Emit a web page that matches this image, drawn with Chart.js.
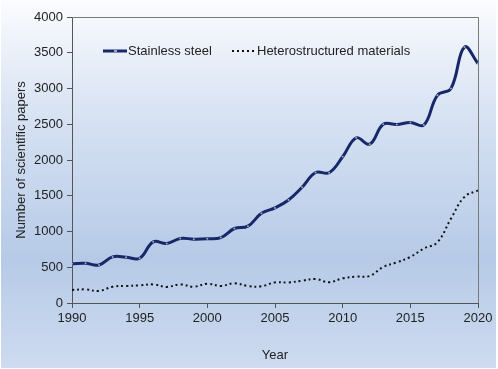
<!DOCTYPE html>
<html>
<head>
<meta charset="utf-8">
<script src="https://cdn.jsdelivr.net/npm/chart.js@4/dist/chart.umd.min.js"></script>
<style>
  html, body { margin: 0; padding: 0; background: #fff; }
  #wrap { width: 498px; height: 369px; }
</style>
</head>
<body>
<div id="wrap"><canvas id="myChart" width="498" height="369"></canvas></div>
<script>
// data
const years = [1990,1991,1992,1993,1994,1995,1996,1997,1998,1999,2000,2001,2002,2003,2004,2005,2006,2007,2008,2009,2010,2011,2012,2013,2014,2015,2016,2017,2018,2019,2020];
const stainless = [550,555,532,645,640,625,855,832,903,893,898,915,1042,1075,1255,1330,1440,1618,1825,1822,2045,2310,2222,2500,2497,2525,2490,2905,3000,3580,3350];
const hetero = [182,190,168,228,238,247,260,225,260,228,270,238,275,238,233,288,288,312,336,290,345,368,378,505,568,645,762,850,1180,1485,1575];
const seriesNames = ['Stainless steel', 'Heterostructured materials'];
const yearTicks = [1990,1995,2000,2005,2010,2015,2020];

const FONT = '"Liberation Sans", Arial, sans-serif';
Chart.defaults.font.family = FONT;
Chart.defaults.font.size = 13;
Chart.defaults.color = '#222';

function pts(vals) {
  const out = [];
  for (var i = 0; i < years.length; i++) out.push({x: years[i], y: vals[i]});
  return out;
}

// background gradient + plot frame
const bgPlugin = {
  id: 'bg',
  beforeDraw(chart) {
    const ctx = chart.ctx;
    const g = ctx.createLinearGradient(0, 0, 0, chart.height);
    g.addColorStop(0, '#fbfcfe');
    g.addColorStop(0.3, '#d8e3f3');
    g.addColorStop(0.7, '#b6cae7');
    g.addColorStop(1, '#cedbf0');
    ctx.save();
    ctx.fillStyle = g;
    ctx.fillRect(1, 0, chart.width - 3, chart.height - 1);
    ctx.restore();
  },
  beforeDatasetsDraw(chart) {
    const a = chart.chartArea;
    const ctx = chart.ctx;
    ctx.save();
    ctx.strokeStyle = '#7a7a7a';
    ctx.lineWidth = 1;
    ctx.beginPath();
    ctx.moveTo(a.left, a.top + 0.5);
    ctx.lineTo(a.right + 0.5, a.top + 0.5);
    ctx.lineTo(a.right + 0.5, a.bottom);
    ctx.stroke();
    ctx.restore();
  }
};

// legend drawn inside the plot area
const legendPlugin = {
  id: 'inLegend',
  afterDraw(chart) {
    const ctx = chart.ctx;
    const y = 51;
    const items = [{x: 103}, {x: 232}];
    ctx.save();
    chart.data.datasets.forEach(function (ds, i) {
      const x0 = items[i].x;
      ctx.strokeStyle = ds.borderColor;
      ctx.lineWidth = ds.borderWidth;
      ctx.setLineDash(ds.borderDash || []);
      ctx.beginPath();
      ctx.moveTo(x0, y);
      ctx.lineTo(x0 + 24, y);
      ctx.stroke();
      ctx.setLineDash([]);
      if (ds.pointRadius > 0) {
        ctx.fillStyle = ds.pointBackgroundColor;
        ctx.fillRect(x0 + 11, y - 1, 3, 2);
      }
      ctx.fillStyle = '#222';
      ctx.font = '13px ' + FONT;
      ctx.textBaseline = 'middle';
      ctx.fillText(ds.label, x0 + 25, y);
    });
    ctx.restore();
  }
};

const ctx = document.getElementById('myChart').getContext('2d');
const myChart = new Chart(ctx, {
  type: 'line',
  data: {
    datasets: [{
      label: seriesNames[0],
      data: pts(stainless),
      borderColor: '#16286a',
      borderWidth: 3,
      pointRadius: 1,
      pointBackgroundColor: '#a0a8b8',
      pointBorderWidth: 0,
      tension: 0.4
    }, {
      label: seriesNames[1],
      data: pts(hetero),
      borderColor: '#111',
      borderWidth: 2,
      borderDash: [2, 3],
      pointRadius: 0,
      tension: 0.4
    }]
  },
  plugins: [bgPlugin, legendPlugin],
  options: {
    responsive: false,
    animation: false,
    layout: { padding: { left: 0, top: 17, right: 20, bottom: 0 } },
    plugins: { legend: { display: false }, tooltip: { enabled: false } },
    elements: { line: { borderCapStyle: 'butt' } },
    scales: {
      x: {
        type: 'linear',
        min: 1990, max: 2020,
        afterBuildTicks: function (s) { s.ticks = yearTicks.map(function (v) { return {value: v}; }); },
        ticks: { padding: 3, maxRotation: 0, callback: function (v) { return String(v); } },
        grid: { drawOnChartArea: false, tickLength: 5, tickColor: '#555' },
        border: { color: '#555', width: 1 },
        title: { display: true, text: 'Year', padding: { top: 0, bottom: 6 } },
        afterFit: function (s) { s.height = 66; }
      },
      y: {
        min: 0, max: 4000,
        ticks: { stepSize: 500, padding: 4, callback: function (v) { return String(v); } },
        grid: { drawOnChartArea: false, tickLength: 5, tickColor: '#555' },
        border: { color: '#555', width: 1 },
        title: { display: true, text: 'Number of scientific papers', padding: { top: 14, bottom: 0 } },
        afterFit: function (s) { s.width = 72; }
      }
    }
  }
});
</script>
</body>
</html>
